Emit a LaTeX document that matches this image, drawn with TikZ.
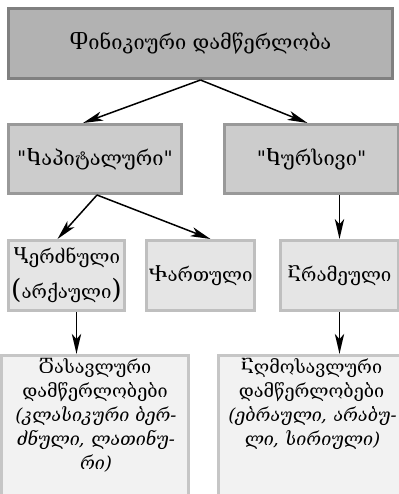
\documentclass[tikz,border=0pt]{standalone}
\usepackage{fontspec}
\setmainfont{DejaVu Serif}
\newfontfamily\slgeo[FakeSlant=0.2]{DejaVu Serif}
\usetikzlibrary{arrows.meta}

\newcommand{\px}{0.75pt}

\tikzset{
  box/.style={draw, line width=3*\px, inner sep=0pt, align=center,
    font=\fontsize{15}{19}\selectfont},
  topbox/.style={box, fill=gray!60, draw=gray},
  midbox/.style={box, fill=gray!40, draw=gray!80},
  lowbox/.style={box, fill=gray!20, draw=gray!50, font=\fontsize{14}{19}\selectfont},
  leafbox/.style={box, fill=gray!10, draw=gray!45},
  arr/.style={line width=1.5*\px, -{Stealth[length=15pt,width=7pt,inset=4pt]}}
}

\begin{document}
\begin{tikzpicture}[x=0.75pt,y=-0.75pt]
  \clip (0,0) rectangle (399,494);
  \fill[white] (0,0) rectangle (399,494);

  % top row
  \node[topbox, minimum width=384*\px, minimum height=70*\px] (phoen) at (200.5,43.5) {Ⴔინიკიური დამწერლობა};

  % second row
  \node[midbox, minimum width=173*\px, minimum height=69*\px] (kap) at (95,159) {\textquotedbl Ⴉაპიტალური\textquotedbl};
  \node[midbox, minimum width=174*\px, minimum height=69*\px] (kurs) at (311.5,159) {\textquotedbl Ⴉურსივი\textquotedbl};

  % third row
  \node[lowbox, minimum width=116*\px, minimum height=70*\px, font=\fontsize{14}{26}\selectfont] (berdz) at (66.5,275.5) {Ⴁერძნული\\{\fontsize{20}{20}\selectfont(}არქაული{\fontsize{20}{20}\selectfont)}};
  \node[lowbox, minimum width=108*\px, minimum height=70*\px] (kart) at (200.5,275.5) {Ⴕართული};
  \node[lowbox, minimum width=118*\px, minimum height=70*\px] (aram) at (339.5,275.5) {Ⴀრამეული};

  % bottom row
  \node[leafbox, minimum width=173*\px] (dasav) at (95,430) {%
    \begin{minipage}[c][112pt][t]{140pt}\centering\fontsize{13.5}{18}\selectfont
      \vspace*{2pt}Ⴃასავლური\\დამწერლობები\\{\slgeo(კლასიკური ბერ-\\ძნული, ლათინუ-\\რი)}
    \end{minipage}};
  \node[leafbox, minimum width=174*\px] (agmos) at (311.5,430) {%
    \begin{minipage}[c][112pt][t]{140pt}\centering\fontsize{13.5}{18}\selectfont
      \vspace*{2pt}Ⴀღმოსავლური\\დამწერლობები\\{\slgeo(ებრაული, არაბუ-\\ლი, სირიული)}
    \end{minipage}};

  % connectors
  \draw[arr] (phoen.south) -- ([xshift=-12*\px]kap.north);
  \draw[arr] (phoen.south) -- ([xshift=-4*\px]kurs.north);
  \draw[arr] ([xshift=2*\px]kap.south) -- ([xshift=-9*\px]berdz.north);
  \draw[arr] ([xshift=2*\px]kap.south) -- ([xshift=10*\px]kart.north);
  \draw[arr] (kurs.south -| aram.north) -- (aram.north);
  \draw[arr] ([xshift=10*\px]berdz.south) -- ([xshift=10*\px]berdz.south |- dasav.north);
  \draw[arr] (aram.south) -- (aram.south |- agmos.north);
\end{tikzpicture}
\end{document}
